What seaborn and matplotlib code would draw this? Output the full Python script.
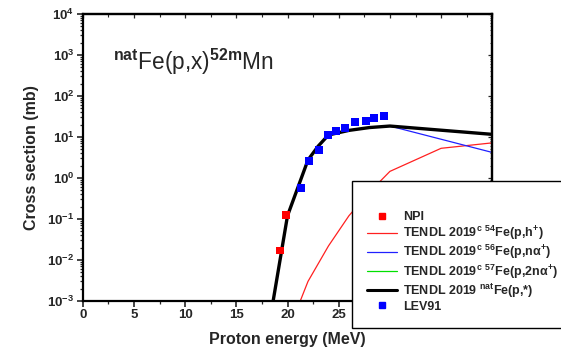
import numpy as np
import pandas as pd
import matplotlib
matplotlib.use("Agg")
import matplotlib.pyplot as plt
import seaborn as sns
from matplotlib.lines import Line2D
from matplotlib.ticker import LogLocator, MultipleLocator, LogFormatterSciNotation, NullFormatter

# ---- data ----
npi_E = [19.27, 19.85]
npi_xs = [0.017, 0.125]

lev_E = [21.3, 22.13, 23.05, 23.95, 24.77, 25.64, 26.56, 27.67, 28.48, 29.45]
lev_xs = [0.58, 2.6, 4.8, 11.4, 14.0, 16.6, 23.6, 25.0, 28.6, 32.5]

fe54_E = [21, 22, 24, 26, 28, 30, 35, 40]
fe54_xs = [7e-4, 0.003, 0.022, 0.12, 0.45, 1.45, 5.3, 7.2]

fe56_E = [18, 20, 22, 23, 24, 26, 28, 30, 40]
fe56_xs = [1.3e-4, 0.12, 2.75, 6.0, 11.2, 14.5, 17.0, 18.5, 4.2]

nat_E = [18, 20, 22, 23, 24, 26, 28, 30, 40]
nat_xs = [1.3e-4, 0.12, 2.75, 6.0, 11.2, 14.5, 17.0, 18.5, 11.6]

# x tick labels (30-40 are hidden behind the legend in the reference)
x_ticks = [0, 5, 10, 15, 20, 25, 30, 35, 40]
x_ticklabels = ["0", "5", "10", "15", "20", "25", "", "", ""]

labels = {
    "npi": "NPI",
    "fe54": "TENDL 2019$^{c}$ $^{54}$Fe(p,h$^{+}$)",
    "fe56": "TENDL 2019$^{c}$ $^{56}$Fe(p,nα$^{+}$)",
    "fe57": "TENDL 2019$^{c}$ $^{57}$Fe(p,2nα$^{+}$)",
    "nat": "TENDL 2019 $^{nat}$Fe(p,*)",
    "lev": "LEV91",
}

sns.set_style("white")
plt.rcParams["font.family"] = ["Liberation Sans", "DejaVu Sans"]
plt.rcParams["mathtext.fontset"] = "custom"
plt.rcParams["mathtext.rm"] = "Liberation Sans"
plt.rcParams["mathtext.bf"] = "Liberation Sans:bold"
plt.rcParams["mathtext.it"] = "Liberation Sans:bold"
plt.rcParams["mathtext.default"] = "bf"

fig = plt.figure(figsize=(5.61, 3.52), dpi=100)
ax = fig.add_axes([82.7 / 561, 1 - 301 / 352, (492.3 - 82.7) / 561, (301 - 14) / 352])

df54 = pd.DataFrame({"E": fe54_E, "xs": fe54_xs})
df56 = pd.DataFrame({"E": fe56_E, "xs": fe56_xs})
dfnat = pd.DataFrame({"E": nat_E, "xs": nat_xs})
dfnpi = pd.DataFrame({"E": npi_E, "xs": npi_xs})
dflev = pd.DataFrame({"E": lev_E, "xs": lev_xs})

sns.lineplot(data=df54, x="E", y="xs", ax=ax, color="#ff2020", lw=0.9, estimator=None, sort=False)
sns.lineplot(data=df56, x="E", y="xs", ax=ax, color="#2020ff", lw=0.9, estimator=None, sort=False)
sns.lineplot(data=dfnat, x="E", y="xs", ax=ax, color="black", lw=2.4, estimator=None, sort=False)
sns.scatterplot(data=dfnpi, x="E", y="xs", ax=ax, color="#ff0000", marker="s", s=26, edgecolor="none", zorder=5)
sns.scatterplot(data=dflev, x="E", y="xs", ax=ax, color="#0000ff", marker="s", s=34, edgecolor="none", zorder=5)

ax.set_yscale("log")
ax.set_xlim(0, 40)
ax.set_ylim(1e-3, 1e4)

ax.xaxis.set_minor_locator(MultipleLocator(2.5))
ax.yaxis.set_major_locator(LogLocator(base=10, numticks=20))
ax.yaxis.set_minor_locator(LogLocator(base=10, subs=np.arange(2, 10), numticks=100))
ax.yaxis.set_major_formatter(LogFormatterSciNotation())
ax.yaxis.set_minor_formatter(NullFormatter())

ax.set_xticks(x_ticks)
ax.set_xticklabels(x_ticklabels)

for s in ax.spines.values():
    s.set_linewidth(1.6)
    s.set_color("black")

ax.tick_params(axis="both", which="major", direction="out", length=4, width=1.2,
               labelsize=9.5, bottom=True, left=True, top=False, right=False, pad=2)
ax.tick_params(axis="both", which="minor", direction="out", length=2.5, width=0.9,
               bottom=True, left=True, top=False, right=False)
for lab in ax.get_xticklabels() + ax.get_yticklabels():
    lab.set_fontweight("bold")

# mirrored inward ticks on top and right
axt = ax.secondary_xaxis("top")
axt.xaxis.set_major_locator(MultipleLocator(5))
axt.xaxis.set_minor_locator(MultipleLocator(2.5))
axt.tick_params(which="major", direction="in", length=3, width=0.9, labeltop=False)
axt.tick_params(which="minor", direction="in", length=2, width=0.8)
axt.spines["top"].set_linewidth(1.6)
axr = ax.secondary_yaxis("right")
axr.yaxis.set_major_locator(LogLocator(base=10, numticks=20))
axr.yaxis.set_minor_locator(LogLocator(base=10, subs=np.arange(2, 10), numticks=100))
axr.yaxis.set_minor_formatter(NullFormatter())
axr.tick_params(which="major", direction="in", length=3, width=0.9, labelright=False)
axr.tick_params(which="minor", direction="in", length=1.5, width=0.6)
axr.spines["right"].set_linewidth(1.6)

ax.set_xlabel("Proton energy (MeV)", fontsize=11.5, fontweight="bold", labelpad=8)
ax.set_ylabel("Cross section (mb)", fontsize=11.5, fontweight="bold", labelpad=6)

ax.text(0.074, 0.805, "$^{nat}$Fe(p,x)$^{52m}$Mn", transform=ax.transAxes,
        fontsize=16.3, va="baseline", ha="left")

handles = [
    Line2D([], [], ls="none", marker="s", color="#ff0000", markersize=5),
    Line2D([], [], color="#ff2020", lw=0.9),
    Line2D([], [], color="#2020ff", lw=0.9),
    Line2D([], [], color="#00e000", lw=0.9),
    Line2D([], [], color="black", lw=2.2),
    Line2D([], [], ls="none", marker="s", color="#0000ff", markersize=5),
]
leg_labels = [labels[k] for k in ["npi", "fe54", "fe56", "fe57", "nat", "lev"]]
leg = fig.legend(handles, leg_labels, loc="upper left", bbox_to_anchor=(352 / 561, 1 - 181 / 352),
                 borderaxespad=0, frameon=True, fancybox=False, edgecolor="black", framealpha=1,
                 prop={"weight": "bold", "size": 9}, handlelength=2.4, handletextpad=0.45,
                 labelspacing=0.08, borderpad=1.2, title=" ", title_fontsize=11)
leg.get_frame().set_linewidth(1.0)

fig.savefig("out.png", dpi=100)
